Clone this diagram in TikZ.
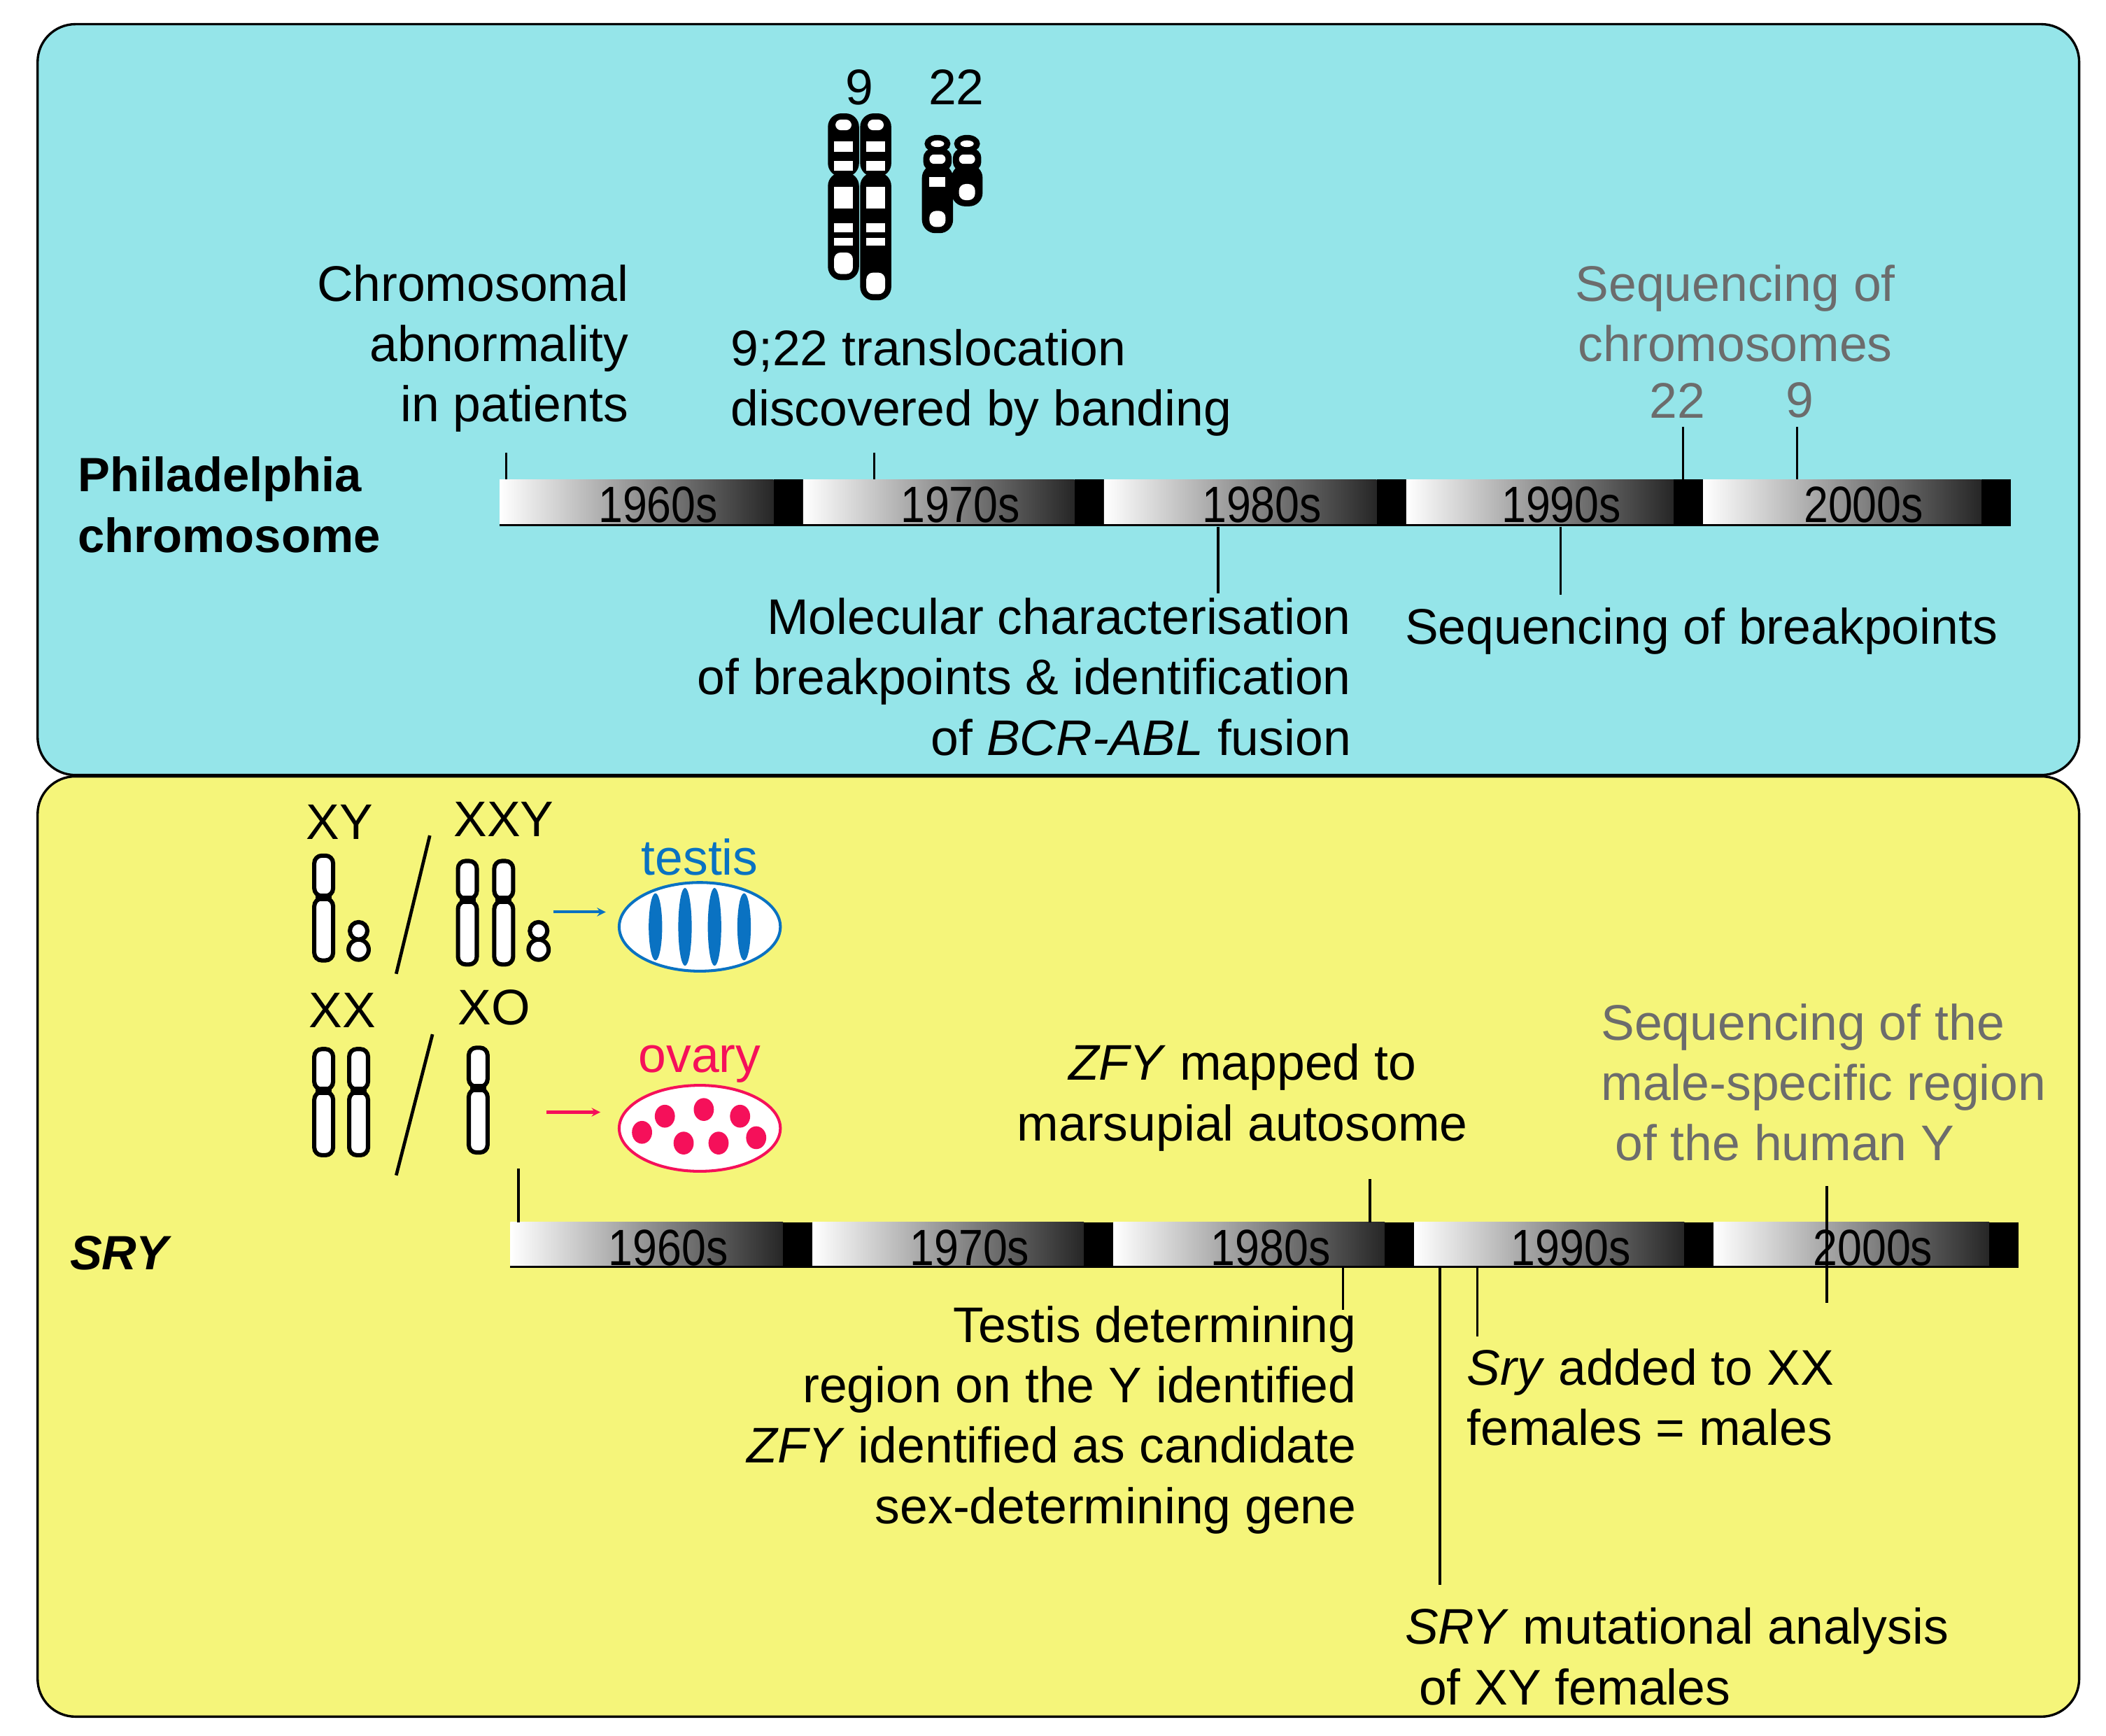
\documentclass[tikz,border=0pt]{standalone}
\usepackage{fontspec}
\setmainfont{Liberation Sans}
\begin{document}
\begin{tikzpicture}[x=0.05cm,y=-0.05cm,
  txt/.style={font=\fontsize{53}{64}\selectfont, inner sep=0pt, align=#1},
  txt/.default=center,
  gtxt/.style={txt=#1, text=gray!85!black},
  gtxt/.default=center,
  yr/.style={font=\fontsize{54}{60}\selectfont, inner sep=0pt, xscale=0.86},
  tick/.style={line width=2.6pt},
  chr/.style={line width=4.5pt, fill=white},
  chb/.style={line width=4.5pt, fill=black}]
\useasboundingbox (0,0) rectangle (1568,1292);
\definecolor{topc}{HTML}{95E5E9}
\definecolor{botc}{HTML}{F5F57A}
\definecolor{tblue}{HTML}{0A72C2}
\definecolor{ored}{HTML}{F5105A}
% panels
\draw[line width=2.5pt, fill=topc, rounded corners=40pt] (28,18) rectangle (1548,577);
\draw[line width=2.5pt, fill=botc, rounded corners=40pt] (28,578) rectangle (1548,1278);
% timeline macro
\newcommand\seg[4]{% x1 x2 y1 y2
  \shade[left color=white, right color=black!85] (#1,#3) rectangle (#2-22,#4);
  \fill[black] (#2-22,#3) rectangle (#2,#4);}
% top bar
\foreach \a/\b/\l in {372/598/1960s,598/822/1970s,822/1047/1980s,1047/1268/1990s,1268/1497/2000s}{
  \seg{\a}{\b}{357}{391}
  \node[yr] (t\l) at ({(\a+\b)/2+5},376) {\l};}
\draw[line width=2.5pt] (372,391) -- (1497,391);
% bottom bar
\foreach \a/\b/\l in {380/605/1960s,605/829/1970s,829/1053/1980s,1053/1276/1990s,1276/1503/2000s}{
  \seg{\a}{\b}{910}{943}
  \node[yr] (b\l) at ({(\a+\b)/2+5},929) {\l};}
\draw[line width=2.5pt] (380,943) -- (1503,943);
% ---- top texts
\node[txt=right, anchor=north east] (ca) at (468,197) {Chromosomal\\abnormality\\in patients};
\node[txt=left, anchor=north west] (tr) at (544,245) {9;22 translocation\\discovered by banding};
\node[txt=left, anchor=north west, font=\fontsize{51}{64}\selectfont\bfseries] (ph) at (58,340) {Philadelphia\\chromosome};
\node[txt=right, anchor=north east] (mc) at (1006,445) {Molecular characterisation\\of breakpoints \& identification\\of \textit{BCR-ABL} fusion};
\node[txt=left, anchor=west] (sb) at (1046,470) {Sequencing of breakpoints};
\node[gtxt=center, anchor=north] (sc) at (1292,197) {Sequencing of\\chromosomes};
\node[gtxt] (s22) at (1249,298) {22};
\node[gtxt] (s9) at (1340,298) {9};
\node[txt] (l9) at (640,65) {9};
\node[txt] (l22) at (712,65) {22};
% top ticks
\draw[tick] (377,337) -- (377,357);
\draw[tick] (651,337) -- (651,357);
\draw[tick] (907,392) -- (907,442);
\draw[tick] (1162,392) -- (1162,443);
\draw[tick] (1253,318) -- (1253,370);
\draw[tick] (1338,318) -- (1338,357);
% chromosome 9 pair
\foreach \x/\bt in {628/207,652/222}{
  \draw[chb, rounded corners=12pt] (\x-10,86) rectangle (\x+10,130);
  \draw[chb, rounded corners=12pt] (\x-10,130) rectangle (\x+10,\bt);
  \fill[white] (\x-7,105) rectangle (\x+7,113);
  \fill[white] (\x-7,120) rectangle (\x+7,127);
  \fill[white] (\x-7,139) rectangle (\x+7,155);
  \fill[white] (\x-7,166) rectangle (\x+7,173);
  \fill[white] (\x-7,177) rectangle (\x+7,183);
  \fill[white, rounded corners=7pt] (\x-7,\bt-19) rectangle (\x+7,\bt-3);
  \fill[white, rounded corners=6pt] (\x-6,89) rectangle (\x+6,97);}
% chromosome 22 pair
\foreach \x/\bt in {698/172,720/152}{
  \draw[chb] (\x,107) ellipse (8 and 5);
  \draw[chb, rounded corners=8pt] (\x-9,112) rectangle (\x+9,126);
  \draw[chb, rounded corners=12pt] (\x-10,124) rectangle (\x+10,\bt);
  \fill[white] (\x,107) ellipse (5 and 2.5);
  \fill[white, rounded corners=5pt] (\x-6,115) rectangle (\x+6,122);
  \fill[white, rounded corners=7pt] (\x-6,\bt-15) rectangle (\x+6,\bt-3);}
\fill[white] (692,132) rectangle (704,139);
% ---- bottom
\node[txt] (xy) at (253,612) {XY};
\node[txt] (xxy) at (375,610) {XXY};
\node[txt] (xx) at (255,752) {XX};
\node[txt] (xo) at (368,750) {XO};
\coordinate (s1a) at (295,725); \coordinate (s1b) at (320,622);
\coordinate (s2a) at (295,875); \coordinate (s2b) at (322,770);
\draw[line width=3.5pt] (s1a) -- (s1b);
\draw[line width=3.5pt] (s2a) -- (s2b);
\newcommand\xchr[4]{% x top cen bot
  \draw[chr, rounded corners=8pt] (#1-7,#2) rectangle (#1+7,#3-1);
  \draw[chr, rounded corners=8pt] (#1-7,#3+1) rectangle (#1+7,#4);
  \fill[black] (#1-6,#3-3) rectangle (#1+6,#3+3);}
\newcommand\ychr[1]{%
  \draw[chr] (#1,693) circle (6.5);
  \draw[chr] (#1,707) circle (7.5);}
\xchr{241}{637}{668}{715}
\ychr{267}
\xchr{348}{641}{670}{718}
\xchr{375}{641}{670}{718}
\ychr{401}
\xchr{241}{781}{812}{860}
\xchr{267}{781}{812}{860}
\xchr{356}{780}{810}{858}
% arrows and organs
\coordinate (ab1) at (412,679); \coordinate (ab2) at (451,679);
\draw[-stealth, line width=3pt, tblue] (ab1) -- (ab2);
\coordinate (ar1) at (407,828); \coordinate (ar2) at (447,828);
\draw[-stealth, line width=3pt, ored] (ar1) -- (ar2);
\node[txt, text=tblue] (testis) at (521,638) {testis};
\node[txt, text=ored] (ovary) at (521,792) {ovary};
\draw[line width=3pt, tblue, fill=white] (521,690) ellipse (60 and 33);
\begin{scope}
\clip (521,690) ellipse (58 and 31);
\foreach \x/\r in {488/25,510/29,532/29,554/25}\fill[tblue] (\x,690) ellipse (5 and \r);
\end{scope}
\draw[line width=3pt, ored, fill=white] (521,840) ellipse (60 and 32);
\foreach \x/\y in {478/843,495/831,509/851,524/826,535/851,551/831,563/847}\fill[ored] (\x,\y) ellipse (7.5 and 8.5);
% bottom texts
\node[txt=left, anchor=west, font=\fontsize{51}{64}\selectfont\bfseries\itshape] (sry) at (52,933) {SRY};
\node[txt=center] (zfy) at (925,817) {\textit{ZFY} mapped to\\marsupial autosome};
\node[gtxt=left, anchor=north west] (hy) at (1192,747) {Sequencing of the\\male-specific region\\\ of the human Y};
\node[txt=right, anchor=north east] (tdr) at (1010,972) {Testis determining\\region on the Y identified\\\textit{ZFY} identified as candidate\\sex-determining gene};
\node[txt=left, anchor=north west] (mut) at (1046,1197) {\textit{SRY} mutational analysis\\\ of XY females};
\node[txt=left, anchor=north west] (sxx) at (1092,1004) {\textit{Sry} added to XX\\females = males};
% bottom ticks
\draw[tick] (386,870) -- (386,910);
\draw[tick] (1020,878) -- (1020,910);
\draw[tick] (1360,883) -- (1360,970);
\draw[tick] (1000,943) -- (1000,975);
\draw[tick] (1072,943) -- (1072,1180);
\draw[tick] (1100,943) -- (1100,995);
\end{tikzpicture}
\end{document}
